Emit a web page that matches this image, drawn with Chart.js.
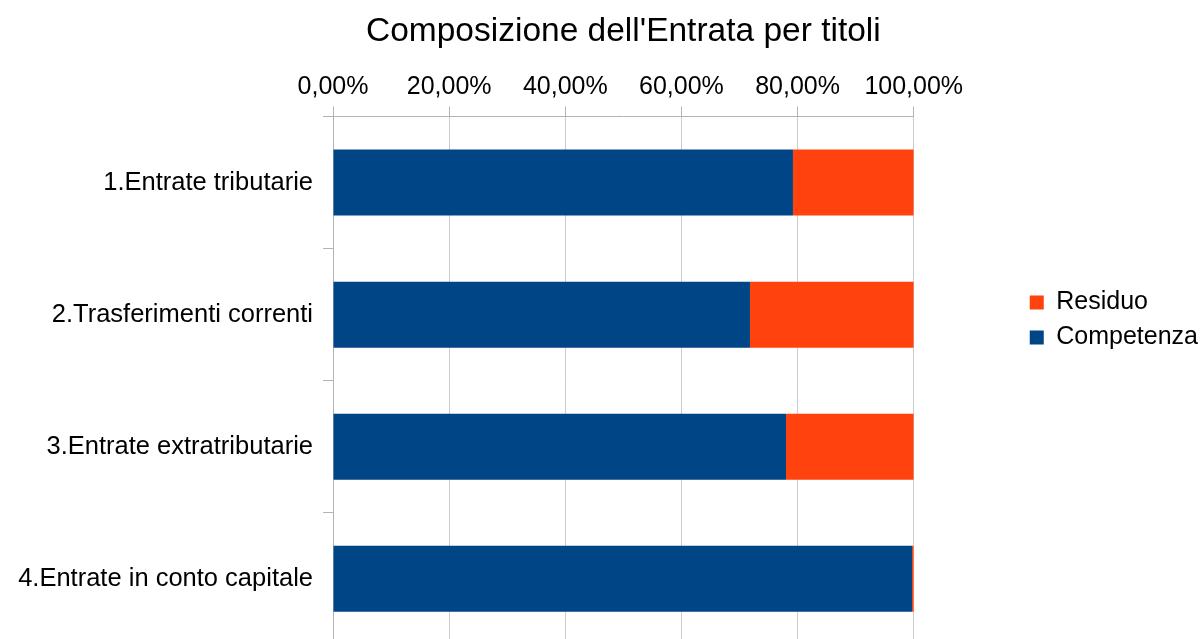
<!DOCTYPE html>
<html>
<head>
<meta charset="utf-8">
<script src="https://cdn.jsdelivr.net/npm/chart.js@4.4.1/dist/chart.umd.min.js"></script>
<style>
  html, body { margin: 0; padding: 0; background: #fff; overflow: hidden; }
  canvas { display: block; }
</style>
</head>
<body>
<canvas id="chart" width="1208" height="670"></canvas>
<script>
// --- data ---
const categories = [
  '1.Entrate tributarie',
  '2.Trasferimenti correnti',
  '3.Entrate extratributarie',
  '4.Entrate in conto capitale'
];
const competenza = [79.2, 71.8, 78.0, 99.7];
const residuo = [20.8, 28.2, 22.0, 0.3];
const xTicks = [0, 20, 40, 60, 80, 100];

const FONT = "'Liberation Sans', Arial, sans-serif";
const AXIS_GREY = '#b3b3b3';

function pct(v) {
  return v.toFixed(2).replace('.', ',') + '%';
}

new Chart(document.getElementById('chart'), {
  type: 'bar',
  data: {
    labels: categories,
    datasets: [
      { label: 'Competenza', data: competenza, backgroundColor: '#004586', borderWidth: 0 },
      { label: 'Residuo', data: residuo, backgroundColor: '#ff420e', borderWidth: 0 }
    ]
  },
  options: {
    indexAxis: 'y',
    responsive: false,
    devicePixelRatio: 1,
    animation: false,
    categoryPercentage: 1,
    barPercentage: 0.5,
    layout: { padding: 0 },
    scales: {
      x: {
        position: 'top',
        stacked: true,
        min: 0,
        max: 100,
        afterBuildTicks: s => { s.ticks = xTicks.map(v => ({ value: v })); },
        afterFit: s => { s.height = 56.4; },
        grid: { color: '#cccccc', tickColor: AXIS_GREY, tickLength: 10 },
        border: { color: AXIS_GREY },
        ticks: {
          color: '#000',
          padding: 4,
          maxRotation: 0,
          font: { family: FONT, size: 25 },
          callback: v => pct(v)
        }
      },
      y: {
        stacked: true,
        afterFit: s => { s.width = 333; },
        grid: { drawOnChartArea: false, color: AXIS_GREY, tickLength: 10, offset: true },
        border: { color: AXIS_GREY },
        ticks: { color: '#000', padding: 10, font: { family: FONT, size: 25.5 } }
      },
      pad: {
        type: 'category',
        position: 'right',
        grid: { display: false },
        border: { display: false },
        ticks: { display: false },
        afterFit: s => { s.width = 106; }
      }
    },
    plugins: {
      title: {
        display: true,
        fullSize: false,
        text: "Composizione dell'Entrata per titoli",
        color: '#000',
        font: { family: FONT, size: 33.5, weight: 'normal' },
        padding: { top: 12, bottom: 8 }
      },
      legend: {
        position: 'right',
        align: 'start',
        reverse: true,
        title: { display: true, text: ' ', font: { size: 10 }, padding: { top: 268, bottom: 0 } },
        labels: {
          color: '#000',
          boxWidth: 14,
          boxHeight: 14,
          padding: 10,
          font: { family: FONT, size: 25 }
        }
      },
      tooltip: { enabled: false }
    }
  }
});
</script>
</body>
</html>
